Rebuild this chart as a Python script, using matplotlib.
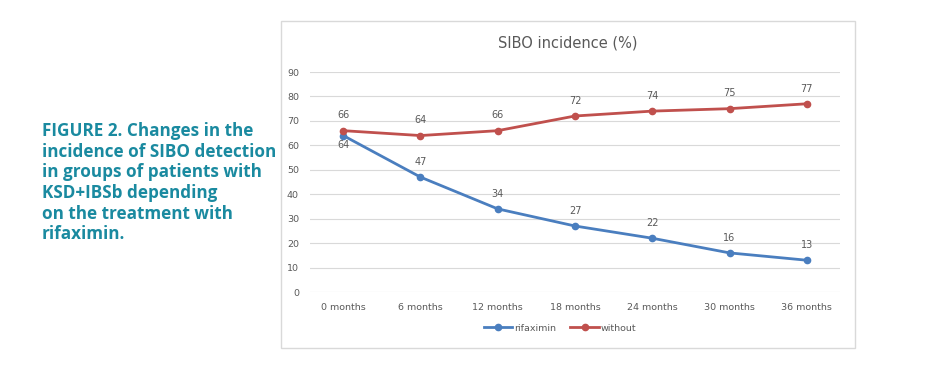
import matplotlib.pyplot as plt
from matplotlib.patches import Rectangle

months = ['0 months', '6 months', '12 months', '18 months', '24 months', '30 months', '36 months']
rifaximin = [64, 47, 34, 27, 22, 16, 13]
without = [66, 64, 66, 72, 74, 75, 77]

blue = '#4a7ebf'
red = '#c0504d'
gray = '#595959'

fig = plt.figure(figsize=(9.32, 3.69), dpi=100)
ax = fig.add_axes([310/932, 77/369, 530/932, 220/369])

# chart frame
fig.patches.append(Rectangle((281/932, 21/369), 574/932, 327/369, transform=fig.transFigure,
                             fill=False, edgecolor='#d9d9d9', linewidth=1))

x = list(range(len(months)))
ax.plot(x, rifaximin, color=blue, lw=2, marker='o', ms=4.5, label='rifaximin')
ax.plot(x, without, color=red, lw=2, marker='o', ms=4.5, label='without')

for i, v in enumerate(without):
    ax.annotate(str(v), (i, v), xytext=(0, 11), textcoords='offset points',
                ha='center', va='center', fontsize=7, color=gray)
for i, v in enumerate(rifaximin):
    dy = -6.5 if i == 0 else 11
    ax.annotate(str(v), (i, v), xytext=(0, dy), textcoords='offset points',
                ha='center', va='center', fontsize=7, color=gray)

ax.set_xlim(-0.43, 6.43)
ax.set_ylim(0, 90)
ax.set_yticks(range(0, 91, 10))
ax.set_xticks(x)
ax.set_xticklabels(months)
ax.tick_params(length=0, labelsize=6.8, labelcolor=gray, pad=8)
ax.grid(axis='y', color='#d9d9d9', lw=0.8)
ax.set_axisbelow(True)
for s in ax.spines.values():
    s.set_visible(False)

fig.text(568/932, 1 - 43/369, 'SIBO incidence (%)', ha='center', va='center',
         fontsize=10.5, color=gray)

ax.legend(loc='center', bbox_to_anchor=(0.472, -0.164), ncol=2, frameon=False,
          fontsize=6.8, labelcolor=gray, handlelength=3, handletextpad=0.2, columnspacing=1.5)

caption = ('FIGURE 2. Changes in the\nincidence of SIBO detection\nin groups of patients with\n'
           'KSD+IBSb depending\non the treatment with\nrifaximin.')
fig.text(42/932, 1 - 122/369, caption, ha='left', va='top', fontsize=12.3, fontweight='bold',
         family='Open Sans', color='#1a8aa0', linespacing=1.19)

fig.savefig('out.png')
plt.close(fig)
